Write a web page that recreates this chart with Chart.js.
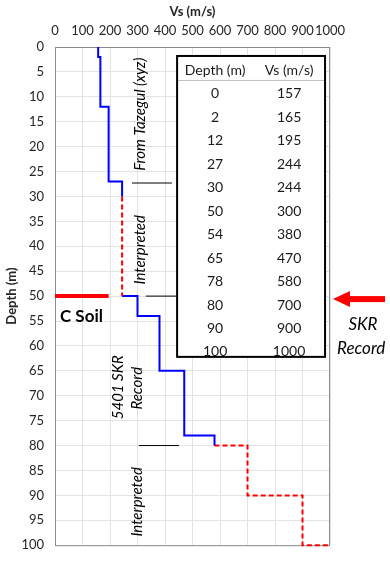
<!DOCTYPE html>
<html>
<head>
<meta charset="utf-8">
<title>Vs profile</title>
<script src="https://cdn.jsdelivr.net/npm/chart.js@4/dist/chart.umd.min.js"></script>
<style>
  html, body { margin: 0; padding: 0; background: #fff; }
  canvas { display: block; }
</style>
</head>
<body>
<canvas id="vsProfile" width="390" height="564"></canvas>
<script>
// Shear wave velocity vs depth (table rows)
const depths = [0, 2, 12, 27, 30, 50, 54, 65, 78, 80, 90, 100];
const vs = [157, 165, 195, 244, 244, 300, 380, 470, 580, 700, 900, 1000];

// short black separators between the source zones
const dividerDepths = [27.3, 50, 80];
const dividerFrom = [280, 330, 305];
const dividerTo = [425, 440, 451];

// site class C line
const cSoilDepth = 50;
const cSoilVs = [0, 195];

const FONT = 'Lato, "Open Sans", sans-serif';
const BLUE = '#0000ff';
const RED = '#ff0000';

// each row point: velocity switches to vs[i] at depths[i] (stepped 'after')
const rows = depths.map((d, i) => ({ x: vs[i], y: d }));
const corner = i => ({ x: vs[i - 1], y: depths[i] });

const measuredTop = rows.slice(0, 5);
const interpretedTop = [rows[4], corner(5)];
const measuredSkr = [corner(5), ...rows.slice(5, 9), corner(9)];
const interpretedBottom = [corner(9), ...rows.slice(9)];

const profileLine = (data, color, dash) => ({
    data: data,
    showLine: true,
    stepped: 'after',
    borderColor: color,
    borderWidth: 2,
    borderDash: dash,
    pointRadius: 0,
    clip: false
});

const dividerSets = dividerDepths.map((d, i) => ({
    data: [{ x: dividerFrom[i], y: d }, { x: dividerTo[i], y: d }],
    showLine: true,
    borderColor: '#000',
    borderWidth: 1,
    pointRadius: 0
}));

// rotated italic notes, anchored in data units
const notes = [
    { text: 'From Tazegul (xyz)', x: 309, y: 13.5 },
    { text: 'Interpreted', x: 309, y: 40.7 },
    { text: '5401 SKR', x: 229, y: 68.3 },
    { text: 'Record', x: 298, y: 68.5 },
    { text: 'Interpreted', x: 298, y: 91.3 }
];

const overlays = {
    id: 'overlays',
    beforeDatasetsDraw(chart) {
        const { ctx, chartArea: a } = chart;
        ctx.save();
        ctx.strokeStyle = '#8c8c8c';
        ctx.lineWidth = 1;
        ctx.strokeRect(a.left + 0.5, a.top + 0.5, a.right - a.left - 1, a.bottom - a.top);
        ctx.restore();
    },
    afterDatasetsDraw(chart) {
        const { ctx } = chart;
        const xs = chart.scales.x, ys = chart.scales.y;
        ctx.save();

        // notes
        ctx.fillStyle = '#000';
        ctx.font = 'italic 15px ' + FONT;
        ctx.textAlign = 'center';
        ctx.textBaseline = 'middle';
        notes.forEach(n => {
            ctx.save();
            ctx.translate(xs.getPixelForValue(n.x), ys.getPixelForValue(n.y));
            ctx.rotate(-Math.PI / 2);
            ctx.fillText(n.text, 0, 0);
            ctx.restore();
        });

        // C Soil label
        ctx.font = 'bold 17px ' + FONT;
        ctx.textAlign = 'left';
        ctx.fillText('C Soil', xs.getPixelForValue(18), ys.getPixelForValue(54.1));

        // table of values
        const tl = xs.getPixelForValue(444), tr = xs.getPixelForValue(982);
        const tt = ys.getPixelForValue(1.8), tb = ys.getPixelForValue(62.2);
        ctx.fillStyle = '#fff';
        ctx.fillRect(tl, tt, tr - tl, tb - tt);
        ctx.strokeStyle = '#bfbfbf';
        ctx.lineWidth = 1;
        ctx.beginPath();
        ctx.moveTo(tl, tt + 24.5);
        ctx.lineTo(tr, tt + 24.5);
        ctx.stroke();
        ctx.strokeStyle = '#000';
        ctx.lineWidth = 2;
        ctx.strokeRect(tl, tt, tr - tl, tb - tt);

        const c1 = tl + 38, c2 = tl + 112;
        ctx.fillStyle = '#1a1a1a';
        ctx.font = '14px ' + FONT;
        ctx.textAlign = 'center';
        ctx.fillText('Depth (m)', c1, tt + 15);
        ctx.fillText('Vs (m/s)', c2, tt + 15);
        depths.forEach((d, i) => {
            const y = tt + 38 + i * 23.45;
            ctx.fillText(String(d), c1, y);
            ctx.fillText(String(vs[i]), c2, y);
        });

        // SKR record arrow
        const ay = ys.getPixelForValue(50.6);
        ctx.fillStyle = RED;
        ctx.fillRect(348, ay - 3, 37, 6);
        ctx.beginPath();
        ctx.moveTo(333, ay);
        ctx.lineTo(350, ay - 8);
        ctx.lineTo(350, ay + 8);
        ctx.closePath();
        ctx.fill();

        ctx.fillStyle = '#000';
        ctx.font = 'italic 17px ' + FONT;
        ctx.textAlign = 'center';
        ctx.fillText('SKR', 363, ay + 25);
        ctx.textAlign = 'left';
        ctx.fillText('Record', 337, ay + 49);

        ctx.restore();
    }
};

const tickFont = { family: FONT, size: 13 };

const config = {
    type: 'scatter',
    data: {
        datasets: [
            profileLine(measuredTop, BLUE, []),
            profileLine(interpretedTop, RED, [5, 3]),
            profileLine(measuredSkr, BLUE, []),
            profileLine(interpretedBottom, RED, [5, 3]),
            {
                data: cSoilVs.map(v => ({ x: v, y: cSoilDepth })),
                showLine: true,
                borderColor: RED,
                borderWidth: 4,
                pointRadius: 0
            },
            ...dividerSets
        ]
    },
    options: {
        responsive: false,
        animation: false,
        layout: { padding: { left: 0, right: 60, top: 0, bottom: 7 } },
        plugins: {
            legend: { display: false },
            tooltip: { enabled: false }
        },
        scales: {
            x: {
                type: 'linear',
                position: 'top',
                min: 0,
                max: 1000,
                afterFit: s => { s.height = 47; },
                ticks: {
                    stepSize: 100,
                    maxRotation: 0,
                    minRotation: 0,
                    autoSkip: false,
                    callback: v => String(v),
                    color: '#262626',
                    font: tickFont,
                    padding: 8
                },
                grid: { color: '#e3e3e3', drawTicks: false },
                border: { display: false },
                title: { display: true, text: 'Vs (m/s)', color: '#262626', font: { family: FONT, size: 13, weight: 'bold' } }
            },
            y: {
                type: 'linear',
                reverse: true,
                min: 0,
                max: 100,
                afterFit: s => { s.width = 55; },
                ticks: { stepSize: 5, autoSkip: false, color: '#262626', font: tickFont, padding: 11 },
                grid: { color: '#e3e3e3', drawTicks: false },
                border: { display: false },
                title: { display: true, text: 'Depth (m)', color: '#262626', font: { family: FONT, size: 13, weight: 'bold' } }
            }
        }
    },
    plugins: [overlays]
};

const ctx = document.getElementById('vsProfile').getContext('2d');
const vsChart = new Chart(ctx, config);
</script>
</body>
</html>
